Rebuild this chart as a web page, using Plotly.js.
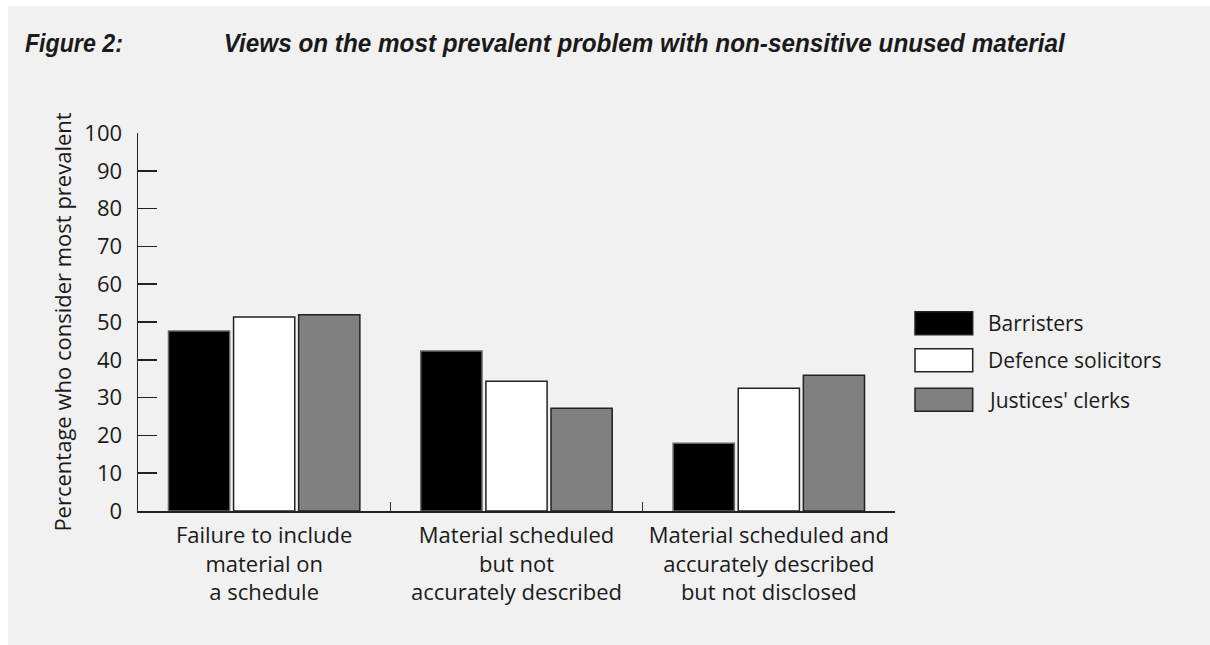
<!DOCTYPE html>
<html>
<head>
<meta charset="utf-8">
<script src="https://cdn.plot.ly/plotly-3.0.1.min.js"></script>
<style>
  html, body { margin: 0; padding: 0; background: #ffffff; width: 1210px; height: 645px; overflow: hidden; }
  #chart { position: absolute; left: 8px; top: 6px; width: 1202px; height: 639px; }
</style>
</head>
<body>
<div id="chart"></div>
<script>
// ---- data ----
const categories = [
  'Failure to include<br>material on<br>a schedule',
  'Material scheduled<br>but not<br>accurately described',
  'Material scheduled and<br>accurately described<br>but not disclosed'
];
const seriesNames = ['Barristers', 'Defence solicitors', "Justices' clerks"];
const barristers = [47.6, 42.3, 17.9];
const defenceSolicitors = [51.3, 34.3, 32.5];
const justicesClerks = [51.9, 27.2, 35.9];
const yTickValues = [0, 10, 20, 30, 40, 50, 60, 70, 80, 90, 100];
const figureLabel = 'Figure 2:';
const figureTitle = 'Views on the most prevalent problem with non-sensitive unused material';
const yAxisTitle = 'Percentage who consider most prevalent';

// ---- styling ----
const fills = ['#000000', '#ffffff', '#808080'];
const edge = ['#666666', '#222222', '#222222'];
const textFont = 'Open Sans, Noto Sans, DejaVu Sans, sans-serif';
const titleFont = 'Liberation Sans, Arial, sans-serif';
const ink = '#1a1a1a';

const W = 1202, H = 639, OX = 8, OY = 6;
const M = {l: 130, r: 315, t: 127, b: 134};
const PX0 = OX + M.l, PX1 = OX + W - M.r, PY0 = OY + M.t, PY1 = OY + H - M.b;
const px = x => (x - PX0) / (PX1 - PX0);
const py = y => (PY1 - y) / (PY1 - PY0);

const values = [barristers, defenceSolicitors, justicesClerks];
const traces = values.map((v, i) => ({
  type: 'bar',
  name: seriesNames[i],
  x: categories,
  y: v,
  marker: {color: fills[i], line: {color: edge[i], width: 1.5}},
  showlegend: false,
  hoverinfo: 'skip'
}));

// custom legend
const legendRows = [323.3, 360.3, 399.7];
const shapes = [];
const annotations = [];
seriesNames.forEach((n, i) => {
  shapes.push({
    type: 'rect', xref: 'paper', yref: 'paper',
    x0: px(915), x1: px(972.7), y0: py(legendRows[i] + 11.5), y1: py(legendRows[i] - 11.5),
    fillcolor: fills[i], line: {color: '#222222', width: 1.5}
  });
  annotations.push({
    xref: 'paper', yref: 'paper', x: px(986), y: py(legendRows[i]),
    xanchor: 'left', yanchor: 'middle', showarrow: false,
    text: n, font: {family: textFont, size: 21, color: ink}
  });
});
// title pieces: target left edge and width in page pixels (condensed face emulated with textLength)
const titleParts = [
  {text: figureLabel, left: 25, width: 98},
  {text: figureTitle, left: 224, width: 841}
];
titleParts.forEach(p => {
  annotations.push({
    xref: 'paper', yref: 'paper', x: px(p.left + p.width / 2), y: py(43),
    xanchor: 'center', yanchor: 'middle', showarrow: false,
    text: p.text, font: {family: titleFont, size: 26, color: ink, weight: 'bold', style: 'italic'}
  });
});

const layout = {
  width: W, height: H,
  margin: M,
  paper_bgcolor: '#f1f1f1',
  plot_bgcolor: 'rgba(0,0,0,0)',
  barmode: 'group',
  bargap: 0.226,
  bargroupgap: 0.06,
  font: {family: textFont, color: ink, size: 20},
  xaxis: {
    type: 'category',
    range: [-0.5, 2.5],
    tickson: 'boundaries',
    ticks: 'inside', ticklen: 9, tickwidth: 1.5, tickcolor: '#333333',
    showline: true, linecolor: '#222222', linewidth: 1.5,
    showgrid: false, zeroline: false,
    tickfont: {family: textFont, size: 22, color: ink},
    ticklabelstandoff: 4,
    fixedrange: true
  },
  yaxis: {
    range: [0, 100],
    tickmode: 'array', tickvals: yTickValues,
    ticks: 'inside', ticklen: 19, tickwidth: 1.5, tickcolor: '#222222',
    showline: true, linecolor: '#222222', linewidth: 1.5,
    showgrid: false, zeroline: false,
    tickfont: {family: textFont, size: 22, color: ink},
    ticklabelstandoff: 10,
    title: {text: yAxisTitle, font: {family: textFont, size: 22, color: ink}, standoff: 6},
    fixedrange: true
  },
  shapes: shapes,
  annotations: annotations,
  showlegend: false
};

Plotly.newPlot('chart', traces, layout, {displayModeBar: false, staticPlot: true}).then(gd => {
  document.querySelectorAll('#chart .annotation-text').forEach(t => {
    const part = titleParts.find(p => p.text === t.textContent);
    if (part) {
      t.setAttribute('textLength', part.width);
      t.setAttribute('lengthAdjust', 'spacingAndGlyphs');
    }
  });
});
</script>
</body>
</html>
